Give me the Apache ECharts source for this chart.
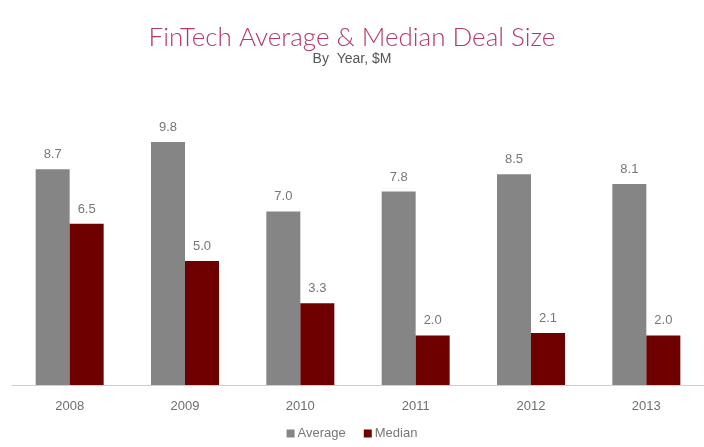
<!DOCTYPE html>
<html>
<head>
<meta charset="utf-8">
<style>
  html, body { margin: 0; padding: 0; background: #ffffff; }
  #chart { width: 704px; height: 447px; }
</style>
<script src="https://cdn.jsdelivr.net/npm/echarts@6/dist/echarts.min.js"></script>
</head>
<body>
<div id="chart"></div>
<script>
// Deal size by year, in $M
const years = ['2008', '2009', '2010', '2011', '2012', '2013'];
const averageDeal = [8.7, 9.8, 7.0, 7.8, 8.5, 8.1];
const medianDeal = [6.5, 5.0, 3.3, 2.0, 2.1, 2.0];

const chart = echarts.init(document.getElementById('chart'), null, { renderer: 'canvas' });

const labelStyle = {
  show: true,
  position: 'top',
  distance: 8,
  color: '#777777',
  fontFamily: 'Liberation Sans, Arial, sans-serif',
  fontSize: 13,
  formatter: p => p.value.toFixed(1)
};

chart.setOption({
  animation: false,
  backgroundColor: '#ffffff',
  title: {
    text: 'FinTech Average & Median Deal Size',
    subtext: 'By  Year, $M',
    left: 'center',
    top: 20,
    itemGap: 1,
    textStyle: {
      color: '#b5386c',
      fontFamily: 'Lato, Liberation Sans, sans-serif',
      fontWeight: 300,
      fontSize: 26
    },
    subtextStyle: {
      color: '#555555',
      fontFamily: 'Liberation Sans, Arial, sans-serif',
      fontSize: 14
    }
  },
  legend: {
    bottom: 2,
    left: 'center',
    itemWidth: 8,
    itemHeight: 8,
    itemGap: 18,
    icon: 'rect',
    textStyle: {
      color: '#777777',
      fontFamily: 'Liberation Sans, Arial, sans-serif',
      fontSize: 13,
      padding: [0, 0, 0, -2]
    },
    data: ['Average', 'Median']
  },
  grid: {
    left: 12,
    top: 137,
    width: 704,
    bottom: 62,
    containLabel: false
  },
  xAxis: {
    type: 'category',
    data: years,
    axisLine: { lineStyle: { color: '#cfcfcf', width: 1 } },
    axisTick: { show: false },
    axisLabel: {
      color: '#6e6e6e',
      fontFamily: 'Liberation Sans, Arial, sans-serif',
      fontSize: 13,
      margin: 15
    }
  },
  yAxis: {
    type: 'value',
    min: 0,
    max: 10,
    show: false,
    splitLine: { show: false }
  },
  series: [
    {
      name: 'Average',
      type: 'bar',
      data: averageDeal,
      barWidth: 34,
      barGap: '0%',
      itemStyle: { color: '#858585' },
      label: labelStyle
    },
    {
      name: 'Median',
      type: 'bar',
      data: medianDeal,
      barWidth: 34,
      barGap: '0%',
      itemStyle: { color: '#6e0000' },
      label: labelStyle
    }
  ]
});
</script>
</body>
</html>
